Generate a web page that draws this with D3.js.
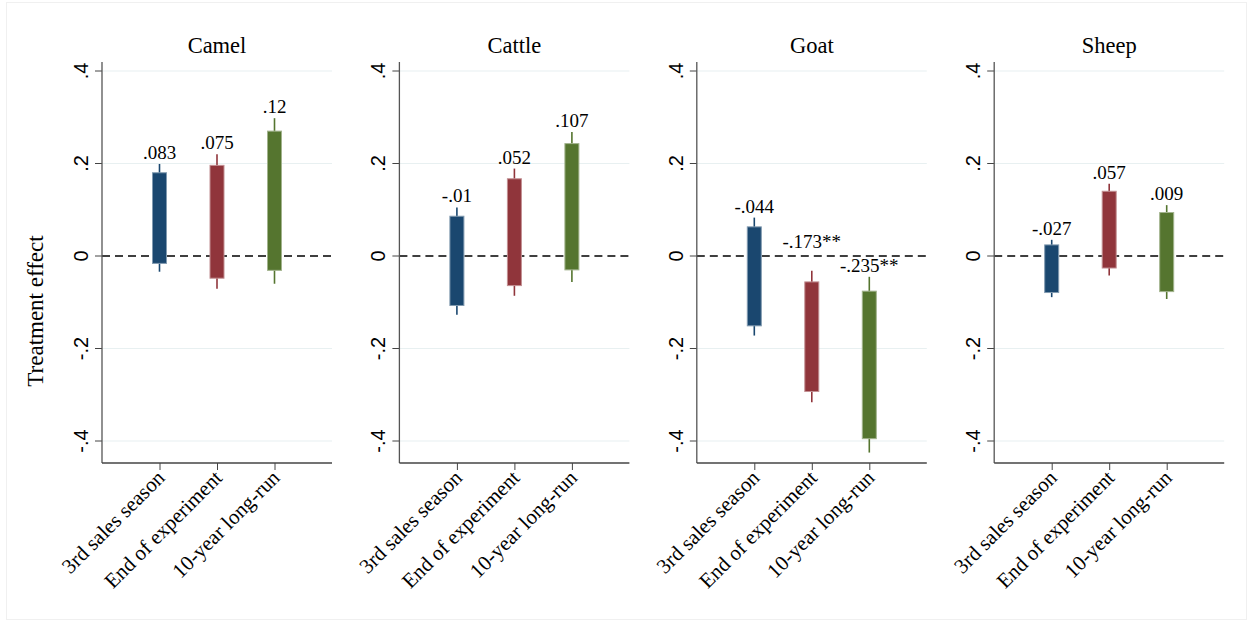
<!DOCTYPE html>
<html>
<head>
<meta charset="utf-8">
<script src="https://cdn.jsdelivr.net/npm/d3@7"></script>
<style>
  body { margin: 0; background: #fff; }
  svg { display: block; }
</style>
</head>
<body>
<div id="main"></div>
<script>
// values
const animals = ["Camel", "Cattle", "Goat", "Sheep"];
const periods = ["3rd sales season", "End of experiment", "10-year long-run"];
const estimateLabels = [
    [".083", ".075", ".12"],
    ["-.01", ".052", ".107"],
    ["-.044", "-.173**", "-.235**"],
    ["-.027", ".057", ".009"]
];
// inner bar (90% CI)
const barLow = [
    [-0.016, -0.048, -0.031],
    [-0.107, -0.064, -0.030],
    [-0.151, -0.293, -0.395],
    [-0.079, -0.026, -0.077]
];
const barHigh = [
    [0.180, 0.196, 0.270],
    [0.086, 0.167, 0.243],
    [0.063, -0.056, -0.076],
    [0.024, 0.140, 0.094]
];
// thin whisker (95% CI)
const whiskerLow = [
    [-0.034, -0.071, -0.060],
    [-0.127, -0.086, -0.056],
    [-0.172, -0.316, -0.425],
    [-0.089, -0.042, -0.093]
];
const whiskerHigh = [
    [0.199, 0.220, 0.298],
    [0.105, 0.189, 0.268],
    [0.083, -0.032, -0.045],
    [0.035, 0.156, 0.110]
];
const yTicks = [-0.4, -0.2, 0, 0.2, 0.4];
const yTickLabels = ["-.4", "-.2", "0", ".2", ".4"];
const yTitle = "Treatment effect";

const colors = ["#1a476f", "#90353b", "#55752f"];
const serif = "'Liberation Serif', 'Times New Roman', serif";
const sans = "'Liberation Sans', Arial, sans-serif";

class PanelChart {
    constructor(config) {
        this.config = config;
        this.svg = d3.select(config.div)
            .append("svg")
            .attr("width", config.width)
            .attr("height", config.height);

        this.yScale = d3.scaleLinear()
            .domain([-0.4, 0.4])
            .range([config.y0, config.y1]);
    }

    frame() {
        this.svg.append("rect")
            .attr("x", 6.5).attr("y", 2.5)
            .attr("width", this.config.width - 12)
            .attr("height", this.config.height - 6)
            .attr("fill", "none")
            .attr("stroke", "#f0f0f0");

        this.svg.append("text")
            .attr("transform", `translate(43,311) rotate(-90)`)
            .attr("text-anchor", "middle")
            .style("font-family", serif)
            .style("font-size", "23px")
            .text(yTitle);
    }

    panel(i) {
        const c = this.config;
        const left = c.left + i * c.step;
        const y = this.yScale;
        const x = d3.scaleLinear().domain([0, 4]).range([left, left + c.plotWidth]);
        const g = this.svg.append("g");
        const idx = d3.range(periods.length);

        // gridlines
        g.append("g")
            .selectAll("line")
            .data(yTicks.filter(t => t !== 0))
            .join("line")
            .attr("x1", left).attr("x2", left + c.plotWidth)
            .attr("y1", d => y(d)).attr("y2", d => y(d))
            .attr("stroke", "#e8f0f1")
            .attr("stroke-width", 1.2);

        // zero line
        g.append("line")
            .attr("x1", left).attr("x2", left + c.plotWidth)
            .attr("y1", y(0)).attr("y2", y(0))
            .attr("stroke", "#000")
            .attr("stroke-width", 1.3)
            .attr("stroke-dasharray", "8,5");

        // y axis
        const yAxis = d3.axisLeft(y)
            .tickValues(yTicks)
            .tickFormat((d, k) => yTickLabels[k])
            .tickSize(7)
            .tickSizeOuter(0);
        const ya = g.append("g")
            .attr("transform", `translate(${left},0)`)
            .call(yAxis);
        ya.select(".domain").remove();
        ya.selectAll(".tick").attr("transform", null);
        ya.selectAll(".tick line")
            .attr("y1", d => y(d)).attr("y2", d => y(d))
            .attr("stroke", "#444");
        ya.selectAll("text")
            .attr("x", 0).attr("y", 0).attr("dy", 0)
            .attr("transform", d => `translate(-14,${y(d)}) rotate(-90)`)
            .attr("text-anchor", "middle")
            .style("font-family", sans)
            .style("font-size", "20px")
            .attr("fill", "#000");

        g.append("line")
            .attr("x1", left).attr("x2", left)
            .attr("y1", c.top).attr("y2", c.bottom)
            .attr("stroke", "#555").attr("stroke-width", 1.3);

        // x axis
        const xAxis = d3.axisBottom(x)
            .tickValues([1, 2, 3])
            .tickFormat(d => periods[d - 1])
            .tickSize(7)
            .tickSizeOuter(0);
        const xa = g.append("g")
            .attr("transform", `translate(0,${c.bottom})`)
            .call(xAxis);
        xa.select(".domain").remove();
        xa.selectAll("line").attr("stroke", "#444");
        xa.selectAll("text")
            .attr("y", 0).attr("dy", 0)
            .attr("transform", "translate(6,16) rotate(-45)")
            .attr("text-anchor", "end")
            .style("font-family", serif)
            .style("font-size", "21px")
            .attr("fill", "#000");

        g.append("line")
            .attr("x1", left).attr("x2", left + c.plotWidth)
            .attr("y1", c.bottom).attr("y2", c.bottom)
            .attr("stroke", "#444").attr("stroke-width", 1.3);

        // whiskers
        g.append("g")
            .selectAll("line")
            .data(idx)
            .join("line")
            .attr("x1", k => x(k + 1)).attr("x2", k => x(k + 1))
            .attr("y1", k => y(whiskerLow[i][k]))
            .attr("y2", k => y(whiskerHigh[i][k]))
            .attr("stroke", k => colors[k])
            .attr("stroke-width", 1.6);

        // bars
        g.append("g")
            .selectAll("rect")
            .data(idx)
            .join("rect")
            .attr("x", k => x(k + 1) - c.barWidth / 2)
            .attr("y", k => y(barHigh[i][k]))
            .attr("width", c.barWidth)
            .attr("height", k => y(barLow[i][k]) - y(barHigh[i][k]))
            .attr("fill", k => colors[k])
            .attr("stroke", k => d3.interpolateRgb(colors[k], "#fff")(0.45))
            .attr("stroke-width", 1);

        // estimate labels, lifted above the zero line when they would cross it
        const labelY = k => {
            let base = y(whiskerHigh[i][k]) - 5;
            if (base > y(0) && base - 13 < y(0)) base = y(0) - 8;
            return base;
        };
        g.append("g")
            .selectAll("text")
            .data(idx)
            .join("text")
            .attr("x", k => x(k + 1))
            .attr("y", labelY)
            .attr("text-anchor", "middle")
            .style("font-family", serif)
            .style("font-size", "19px")
            .text(k => estimateLabels[i][k]);

        // title
        g.append("text")
            .attr("x", left + c.plotWidth / 2)
            .attr("y", 53)
            .attr("text-anchor", "middle")
            .style("font-family", serif)
            .style("font-size", "22.5px")
            .text(animals[i]);
    }
}

function main() {
    let config = {
        div: "#main", width: 1252, height: 623,
        left: 102, step: 297.4, plotWidth: 230, barWidth: 14,
        top: 62, bottom: 463, y0: 441, y1: 71
    };
    let app = new PanelChart(config);
    app.frame();
    animals.forEach((a, i) => app.panel(i));
}

main();
</script>
</body>
</html>
